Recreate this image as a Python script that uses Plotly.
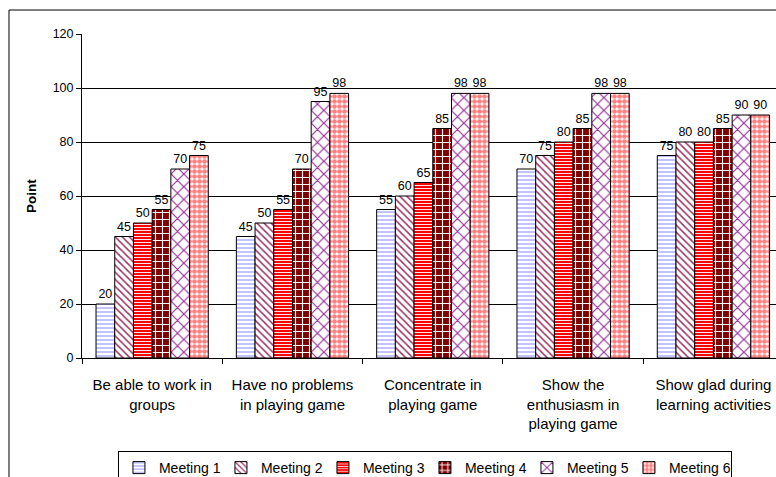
import plotly.graph_objects as go

# Activity categories (x axis) and points per meeting
categories = [
    "Be able to work in<br>groups",
    "Have no problems<br>in playing game",
    "Concentrate in<br>playing game",
    "Show the<br>enthusiasm in<br>playing game",
    "Show glad during<br>learning activities",
]
meeting_names = ["Meeting 1", "Meeting 2", "Meeting 3", "Meeting 4", "Meeting 5", "Meeting 6"]
meeting_1 = [20, 45, 55, 70, 75]
meeting_2 = [45, 50, 60, 75, 80]
meeting_3 = [50, 55, 65, 80, 80]
meeting_4 = [55, 70, 85, 85, 85]
meeting_5 = [70, 95, 98, 98, 90]
meeting_6 = [75, 98, 98, 98, 90]
series = [meeting_1, meeting_2, meeting_3, meeting_4, meeting_5, meeting_6]

# Hatch styles for each meeting
patterns = [
    dict(shape="-", fgcolor="#9999FF", bgcolor="white", size=4, solidity=0.3),
    dict(shape="\\", fgcolor="#993366", bgcolor="white", size=5, solidity=0.3),
    dict(shape="-", fgcolor="white", bgcolor="#FF0000", size=3, solidity=0.3),
    dict(shape="+", fgcolor="white", bgcolor="#800000", size=7, solidity=0.3),
    dict(shape="x", fgcolor="#993399", bgcolor="white", size=9, solidity=0.25),
    dict(shape=".", fgcolor="#FF8080", bgcolor="white", size=5, solidity=0.7),
]

FONT = "Liberation Sans, Arial, sans-serif"

fig = go.Figure()
for name, vals, pat in zip(meeting_names, series, patterns):
    fig.add_trace(go.Bar(
        name=name,
        x=categories,
        y=vals,
        text=[str(v) for v in vals],
        textposition="outside",
        textfont=dict(family=FONT, size=12.5, color="black"),
        cliponaxis=False,
        marker=dict(
            color=pat["bgcolor"],
            line=dict(color="black", width=1),
            pattern=dict(
                shape=pat["shape"],
                fgcolor=pat["fgcolor"],
                bgcolor=pat["bgcolor"],
                size=pat["size"],
                solidity=pat["solidity"],
                fillmode="replace",
            ),
        ),
    ))

# Outer chart frame (extends beyond the visible area on the right and bottom)
fig.add_shape(
    type="rect", xref="paper", yref="paper",
    x0=-0.1052, x1=1.1, y0=-0.45, y1=1.074,
    line=dict(color="black", width=1), fillcolor="rgba(0,0,0,0)", layer="below",
)

fig.update_layout(
    width=776,
    height=477,
    margin=dict(l=82, r=0, t=34, b=119),
    paper_bgcolor="white",
    plot_bgcolor="white",
    barmode="group",
    bargap=0.2,
    bargroupgap=0,
    font=dict(family=FONT, size=12.5, color="black"),
    showlegend=True,
    legend=dict(
        orientation="h",
        xref="container", yref="container",
        x=0.152, xanchor="left",
        y=0.0545, yanchor="top",
        bordercolor="black", borderwidth=1,
        font=dict(family=FONT, size=14, color="black"),
        itemwidth=30,
        entrywidth=57,
        entrywidthmode="pixels",
        tracegroupgap=0,
    ),
    xaxis=dict(
        range=[-0.5, 4.446],
        automargin=False,
        showline=True, linecolor="black", linewidth=1,
        ticks="outside", tickson="boundaries", ticklen=5, tickcolor="black",
        ticklabelstandoff=13,
        tickfont=dict(family=FONT, size=15, color="black"),
        showgrid=False,
    ),
    yaxis=dict(
        range=[0, 120],
        automargin=False,
        tickvals=[0, 20, 40, 60, 80, 100, 120],
        showline=True, linecolor="black", linewidth=1,
        ticks="outside", ticklen=5, tickcolor="black",
        tickfont=dict(family=FONT, size=12.5, color="black"),
        showgrid=True, gridcolor="black", gridwidth=1,
        zeroline=False,
        title=dict(text="<b>Point</b>", font=dict(family=FONT, size=13.5, color="black"), standoff=12),
    ),
)

fig.write_html("out.html")
